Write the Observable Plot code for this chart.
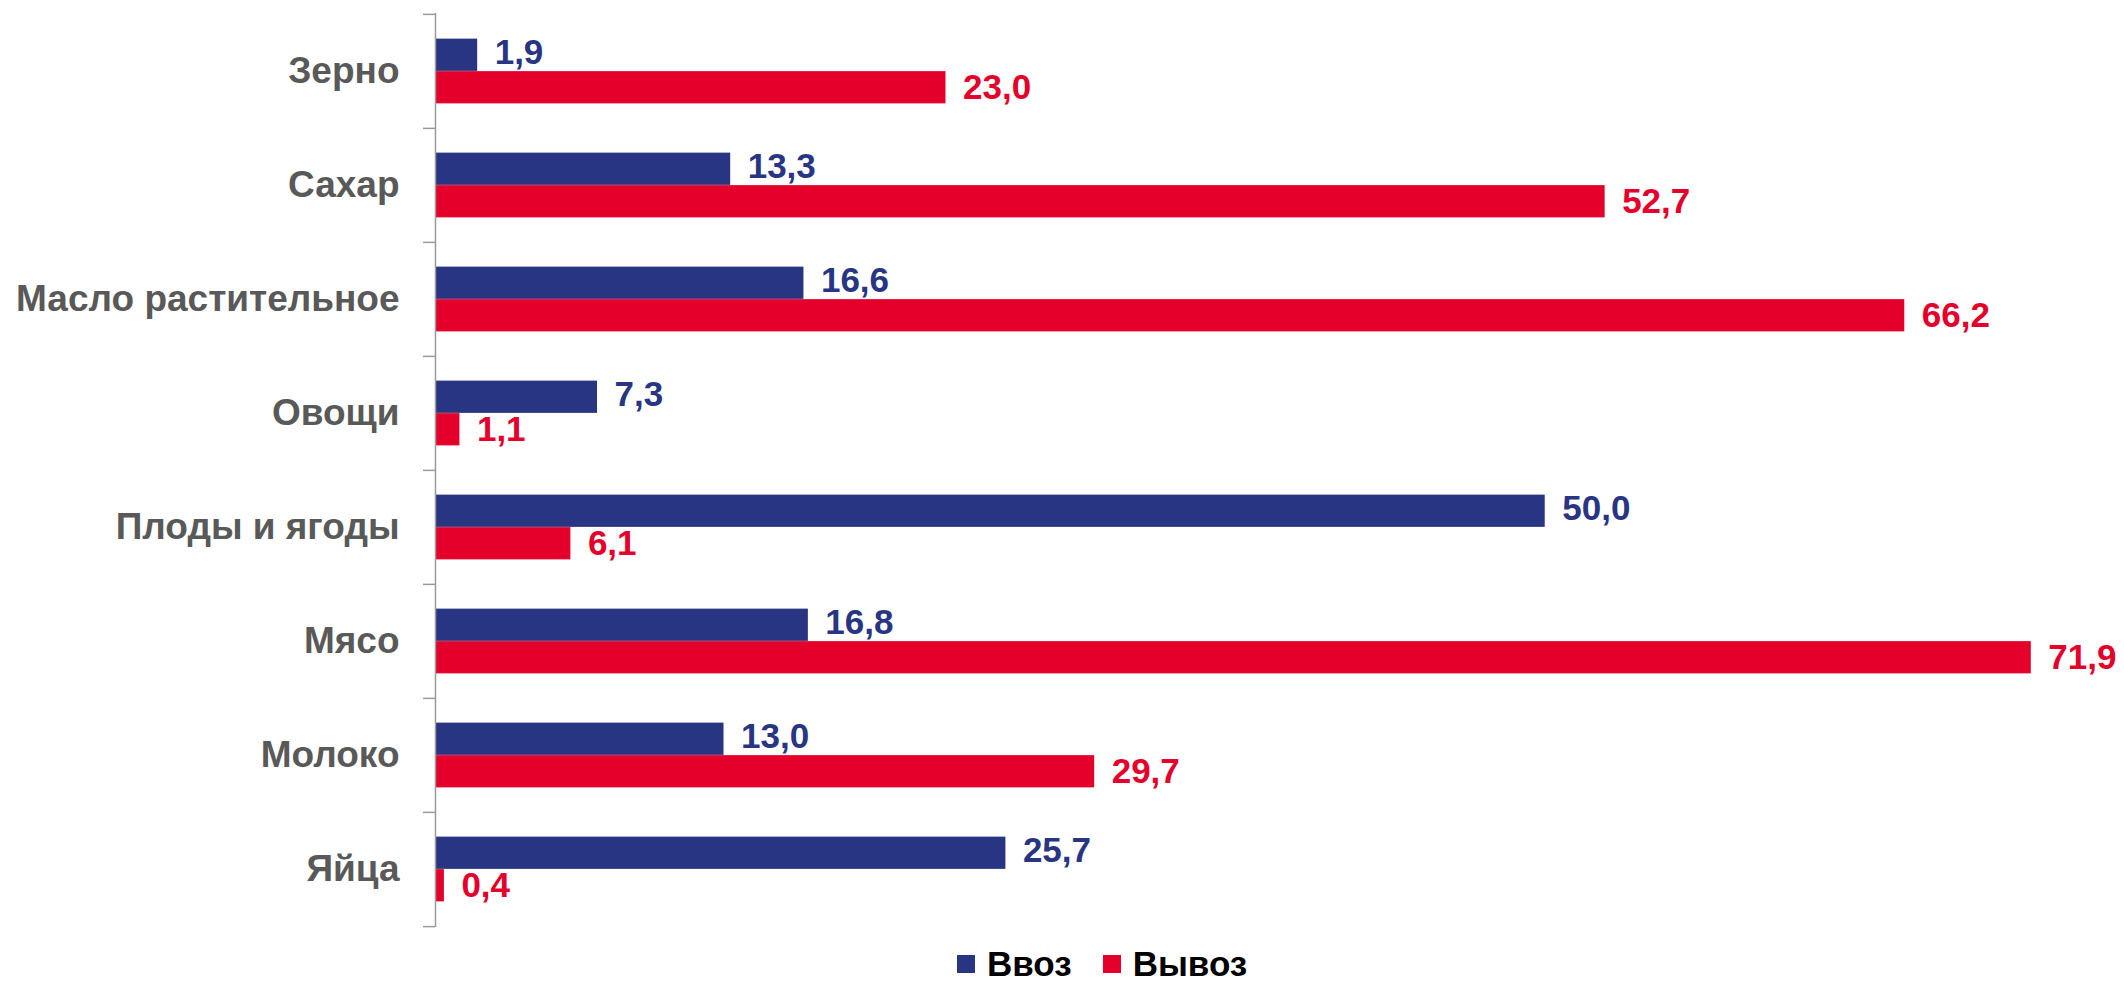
<!DOCTYPE html>
<html>
<head>
<meta charset="utf-8">
<script src="https://cdn.jsdelivr.net/npm/d3@7"></script>
<script src="https://cdn.jsdelivr.net/npm/@observablehq/plot@0.6"></script>
<style>
  html, body { margin: 0; padding: 0; background: #fff; }
  body { width: 2124px; height: 981px; overflow: hidden; font-family: "Liberation Sans", Arial, sans-serif; }
  #legend { position: relative; height: 48px; display: flex; align-items: center; padding-left: 957px;
            font-weight: bold; font-size: 35px; color: #000; }
  .sw { width: 18px; height: 18px; display: inline-block; margin-right: 12px; }
  .item { display: flex; align-items: center; margin-right: 31px; }
</style>
</head>
<body>
<div id="chart"></div>
<div id="legend"></div>
<script>
const categories = ["Зерно", "Сахар", "Масло растительное", "Овощи", "Плоды и ягоды", "Мясо", "Молоко", "Яйца"];
const importValues = [1.9, 13.3, 16.6, 7.3, 50.0, 16.8, 13.0, 25.7];
const exportValues = [23.0, 52.7, 66.2, 1.1, 6.1, 71.9, 29.7, 0.4];
const seriesNames = ["Ввоз", "Вывоз"];
const seriesColors = ["#283583", "#E4002B"];

const W = 2124, H = 940, mTop = 13, mBottom = 13, mLeft = 435, mRight = 0;
const step = (H - mTop - mBottom) / categories.length;
const barH = 32.5;
const outer = step / 2 - barH;

const imp = categories.map((c, i) => ({category: c, value: importValues[i]}));
const exp = categories.map((c, i) => ({category: c, value: exportValues[i]}));
const fmt = d => d3.format(".1f")(d.value).replace(".", ",");
const axisGray = "#9a9a9a";

const chart = Plot.plot({
  width: W, height: H,
  marginTop: mTop, marginBottom: mBottom, marginLeft: mLeft, marginRight: mRight,
  x: {domain: [0, 76.1], axis: null},
  y: {domain: categories, padding: 0, axis: null},
  style: {fontFamily: "'Liberation Sans', Arial, sans-serif", fontWeight: "bold", background: "#fff"},
  marks: [
    Plot.barX(imp, {x: "value", y: "category", fill: seriesColors[0], insetTop: outer, insetBottom: step / 2}),
    Plot.barX(exp, {x: "value", y: "category", fill: seriesColors[1], insetTop: step / 2, insetBottom: outer}),
    Plot.text(imp, {x: "value", y: "category", text: fmt, dx: 17, dy: -barH / 2 - 2, textAnchor: "start",
                    fill: seriesColors[0], fontSize: 35, fontWeight: "bold"}),
    Plot.text(exp, {x: "value", y: "category", text: fmt, dx: 17, dy: barH / 2, textAnchor: "start",
                    fill: seriesColors[1], fontSize: 35, fontWeight: "bold"}),
    Plot.ruleX([0], {stroke: axisGray, strokeWidth: 1.5}),
    Plot.axisY({tickSize: 0, tickPadding: 36, fontSize: 37, fontWeight: "bold", color: "#595959", label: null}),
    Plot.axisY({tickSize: 12, tickFormat: () => "", dy: -step / 2, stroke: axisGray, strokeWidth: 1.5, label: null}),
    Plot.axisY([categories[categories.length - 1]], {tickSize: 12, tickFormat: () => "", dy: step / 2, stroke: axisGray, strokeWidth: 1.5, label: null})
  ]
});
document.getElementById("chart").appendChild(chart);

const legend = document.getElementById("legend");
seriesNames.forEach((name, i) => {
  const item = document.createElement("div");
  item.className = "item";
  const sw = document.createElement("span");
  sw.className = "sw";
  sw.style.background = seriesColors[i];
  const label = document.createElement("span");
  label.textContent = name;
  item.appendChild(sw);
  item.appendChild(label);
  legend.appendChild(item);
});
</script>
</body>
</html>
